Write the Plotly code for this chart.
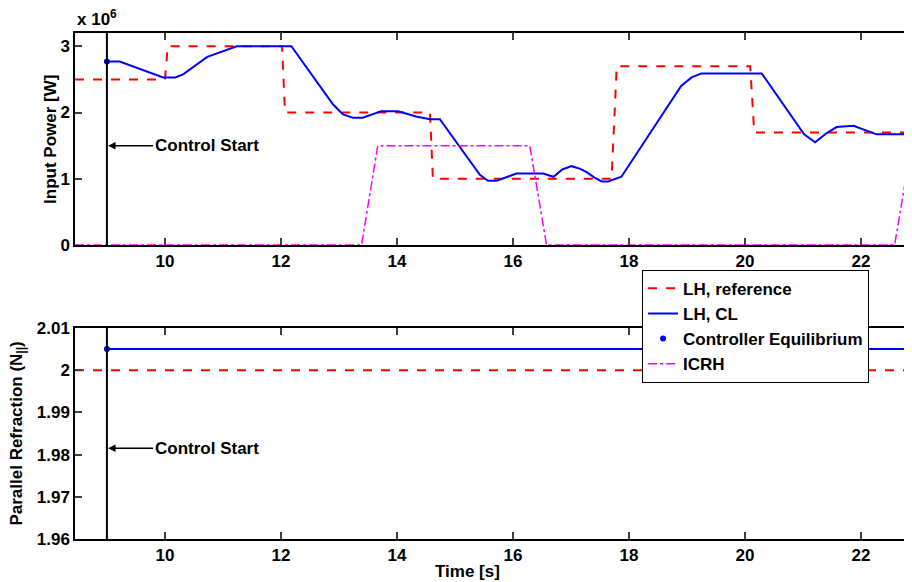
import plotly.graph_objects as go

# ---------------- data ----------------
# Top panel (Input Power, units of 1e6 W)
ref_t = [8.45, 10.0, 10.05, 12.02, 12.07, 14.57, 14.62, 17.70, 17.79, 20.09, 20.16, 23.0]
ref_p = [2.5, 2.5, 3.0, 3.0, 2.0, 2.0, 1.0, 1.0, 2.7, 2.7, 1.7, 1.7]

cl_t = [9.0, 9.22, 9.97, 10.18, 10.32, 10.73, 11.24, 12.18, 12.90, 13.07, 13.24, 13.41,
        13.73, 14.02, 14.33, 14.57, 14.74, 15.43, 15.57, 15.72, 16.06, 16.52, 16.70,
        16.85, 17.01, 17.16, 17.27, 17.40, 17.53, 17.64, 17.87, 18.90, 19.08, 19.25,
        20.29, 21.02, 21.21, 21.41, 21.58, 21.87, 22.27, 22.73, 22.88]
cl_p = [2.77, 2.77, 2.53, 2.53, 2.58, 2.84, 3.0, 3.0, 2.12, 1.97, 1.92, 1.92,
        2.02, 2.02, 1.94, 1.90, 1.90, 1.06, 0.97, 0.97, 1.08, 1.08, 1.03,
        1.14, 1.19, 1.15, 1.10, 1.02, 0.96, 0.96, 1.03, 2.40, 2.53, 2.59,
        2.59, 1.67, 1.55, 1.69, 1.78, 1.80, 1.67, 1.67, 1.72]

icrh_t = [8.45, 13.39, 13.67, 16.29, 16.58, 22.58, 22.87, 23.0]
icrh_p = [0.0, 0.0, 1.5, 1.5, 0.0, 0.0, 1.5, 1.5]

eq_t = [9.0]
eq_p = [2.77]

# Bottom panel (parallel refraction)
n_ref_t = [8.45, 23.0]
n_ref = [2.0, 2.0]
n_cl_t = [9.0, 23.0]
n_cl = [2.005, 2.005]
eq_n = [2.005]

control_start = 9.0

x_ticks = [10, 12, 14, 16, 18, 20, 22]
top_ticks = [0, 1, 2, 3]
top_ticktext = ["0", "1", "2", "3"]
bot_ticks = [1.96, 1.97, 1.98, 1.99, 2.0, 2.01]
bot_ticktext = ["1.96", "1.97", "1.98", "1.99", "2", "2.01"]

# ---------------- figure ----------------
FONT = dict(family="Liberation Sans, Arial, sans-serif", size=17, color="black", weight="bold")
RED = "#ff0000"
BLUE = "#0000ff"
MAG = "#ff00ff"

fig = go.Figure()

# top panel
fig.add_trace(go.Scatter(x=ref_t, y=ref_p, mode="lines", name="LH, reference",
                         line=dict(color=RED, width=2, dash="dash"), xaxis="x", yaxis="y"))
fig.add_trace(go.Scatter(x=cl_t, y=cl_p, mode="lines", name="LH, CL",
                         line=dict(color=BLUE, width=2), xaxis="x", yaxis="y"))
fig.add_trace(go.Scatter(x=eq_t, y=eq_p, mode="markers", name="Controller Equilibrium",
                         marker=dict(color=BLUE, size=6), xaxis="x", yaxis="y"))
fig.add_trace(go.Scatter(x=icrh_t, y=icrh_p, mode="lines", name="ICRH",
                         line=dict(color=MAG, width=1.5, dash="dashdot"), xaxis="x", yaxis="y"))
fig.add_trace(go.Scatter(x=[control_start, control_start], y=[0, 3.2], mode="lines",
                         line=dict(color="black", width=2), showlegend=False,
                         xaxis="x", yaxis="y"))

# bottom panel
fig.add_trace(go.Scatter(x=n_ref_t, y=n_ref, mode="lines", showlegend=False,
                         line=dict(color=RED, width=2, dash="dash"), xaxis="x2", yaxis="y2"))
fig.add_trace(go.Scatter(x=n_cl_t, y=n_cl, mode="lines", showlegend=False,
                         line=dict(color=BLUE, width=2), xaxis="x2", yaxis="y2"))
fig.add_trace(go.Scatter(x=eq_t, y=eq_n, mode="markers", showlegend=False,
                         marker=dict(color=BLUE, size=6), xaxis="x2", yaxis="y2"))
fig.add_trace(go.Scatter(x=[control_start, control_start], y=[1.96, 2.01], mode="lines",
                         line=dict(color="black", width=2), showlegend=False,
                         xaxis="x2", yaxis="y2"))

xcommon = dict(range=[8.45, 22.88], tickvals=x_ticks, ticks="inside", ticklen=7,
               tickcolor="#404040", tickwidth=1.5, showline=True, linecolor="black",
               linewidth=1.5, mirror="ticks", showgrid=False, zeroline=False,
               tickfont=FONT, domain=[0, 1])
ycommon = dict(ticks="inside", ticklen=7, tickcolor="#404040", tickwidth=1.5,
               showline=True, linecolor="black", linewidth=1.5, mirror=False,
               showgrid=False, zeroline=False, tickfont=FONT)

# page body has an 8px margin, so the figure is sized/offset to compensate
fig.update_layout(
    width=904, height=574, autosize=False,
    margin=dict(l=67, r=0, t=25, b=43),
    paper_bgcolor="white", plot_bgcolor="white",
    font=FONT,
    xaxis=dict(**xcommon, anchor="y"),
    yaxis=dict(**ycommon, range=[0, 3.2], tickvals=top_ticks, ticktext=top_ticktext,
               domain=[0.581, 1.0], anchor="x"),
    xaxis2=dict(**xcommon, anchor="y2"),
    yaxis2=dict(**ycommon, range=[1.96, 2.01], tickvals=bot_ticks, ticktext=bot_ticktext,
                domain=[0.0, 0.417], anchor="x2"),
    legend=dict(x=0.6775, y=0.532, xanchor="left", yanchor="top",
                bgcolor="white", bordercolor="black", borderwidth=1,
                font=FONT, tracegroupgap=0, itemwidth=30),
    showlegend=True,
)

annotations = [
    dict(x=control_start + 0.02, y=1.5, xref="x", yref="y", text="Control Start",
         showarrow=True, arrowhead=2, arrowsize=1, arrowwidth=1.5, arrowcolor="black",
         ax=45, ay=0, xanchor="left", font=FONT),
    dict(x=control_start + 0.02, y=1.9815, xref="x2", yref="y2", text="Control Start",
         showarrow=True, arrowhead=2, arrowsize=1, arrowwidth=1.5, arrowcolor="black",
         ax=45, ay=0, xanchor="left", font=FONT),
    dict(x=0, y=1.0, xref="paper", yref="paper", yshift=2, text="x 10<sup>6</sup>",
         showarrow=False, xanchor="left", yanchor="bottom", font=FONT),
    dict(x=-0.03, y=0.7905, xref="paper", yref="paper", text="Input Power [W]",
         textangle=-90, showarrow=False, xanchor="center", yanchor="middle", font=FONT),
    dict(x=-0.068, y=0.2085, xref="paper", yref="paper",
         text="Parallel Refraction (N<sub>||</sub>)",
         textangle=-90, showarrow=False, xanchor="center", yanchor="middle", font=FONT),
    dict(x=15.22, y=0, xref="x2", yref="paper", yshift=-32, text="Time [s]",
         showarrow=False, xanchor="center", yanchor="middle", font=FONT),
]
fig.update_layout(annotations=annotations)

fig.write_html("out.html")
